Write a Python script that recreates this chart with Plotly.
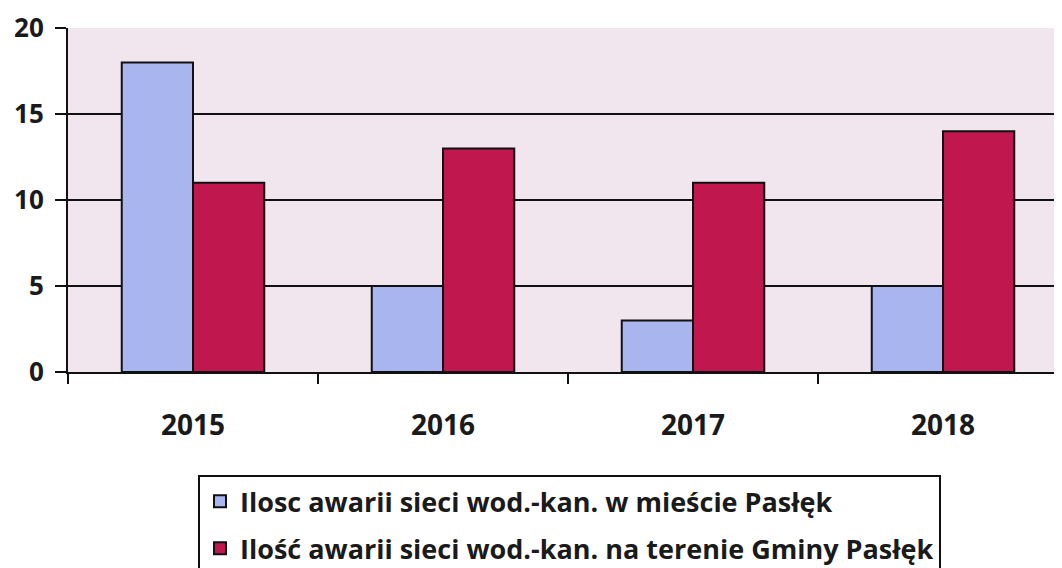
import plotly.graph_objects as go

# chart data
years = ["2015", "2016", "2017", "2018"]
awarie_miasto = [18, 5, 3, 5]
awarie_gmina = [11, 13, 11, 14]
y_ticks = [0, 5, 10, 15, 20]

font_family = "Open Sans, Lato, sans-serif"
bold = dict(family=font_family, size=26, weight="bold", color="#1a1a1a")

fig = go.Figure()

fig.add_trace(go.Bar(
    x=years,
    y=awarie_miasto,
    name="Ilosc awarii sieci wod.-kan. w mieście Pasłęk",
    legendgroup="miasto",
    marker=dict(color="#a8b5ee", line=dict(color="#111111", width=2)),
))

fig.add_trace(go.Bar(
    x=years,
    y=awarie_gmina,
    name="Ilość awarii sieci wod.-kan. na terenie Gminy Pasłęk",
    legendgroup="gmina",
    marker=dict(color="#c0174e", line=dict(color="#111111", width=2)),
))

# the page adds an 8px body margin, margins below account for it
fig.update_layout(
    width=1062,
    height=568,
    margin=dict(l=60, r=2, t=20, b=203),
    paper_bgcolor="white",
    plot_bgcolor="#f1e5ee",
    barmode="group",
    bargap=0.43,
    bargroupgap=0,
    font=bold,
    legend=dict(
        orientation="v",
        x=0.13,
        y=-0.296,
        xanchor="left",
        yanchor="top",
        bgcolor="white",
        bordercolor="#111111",
        borderwidth=2,
        font=dict(bold, size=27),
        traceorder="grouped",
        tracegroupgap=9,
    ),
    xaxis=dict(
        type="category",
        range=[-0.5, 3.5],
        showline=True,
        linecolor="#111111",
        linewidth=2,
        ticks="outside",
        tickson="boundaries",
        ticklen=10,
        tickwidth=2,
        tickcolor="#111111",
        tickfont=dict(bold, size=28),
        ticklabelstandoff=27,
        showgrid=False,
    ),
    yaxis=dict(
        range=[0, 20],
        tickvals=y_ticks,
        showline=True,
        linecolor="#111111",
        linewidth=2,
        ticks="outside",
        ticklen=11,
        tickwidth=2,
        tickcolor="#111111",
        tickfont=bold,
        ticklabelstandoff=6,
        showgrid=True,
        gridcolor="#111111",
        gridwidth=2,
        zeroline=False,
    ),
)

fig.write_html("out.html")
